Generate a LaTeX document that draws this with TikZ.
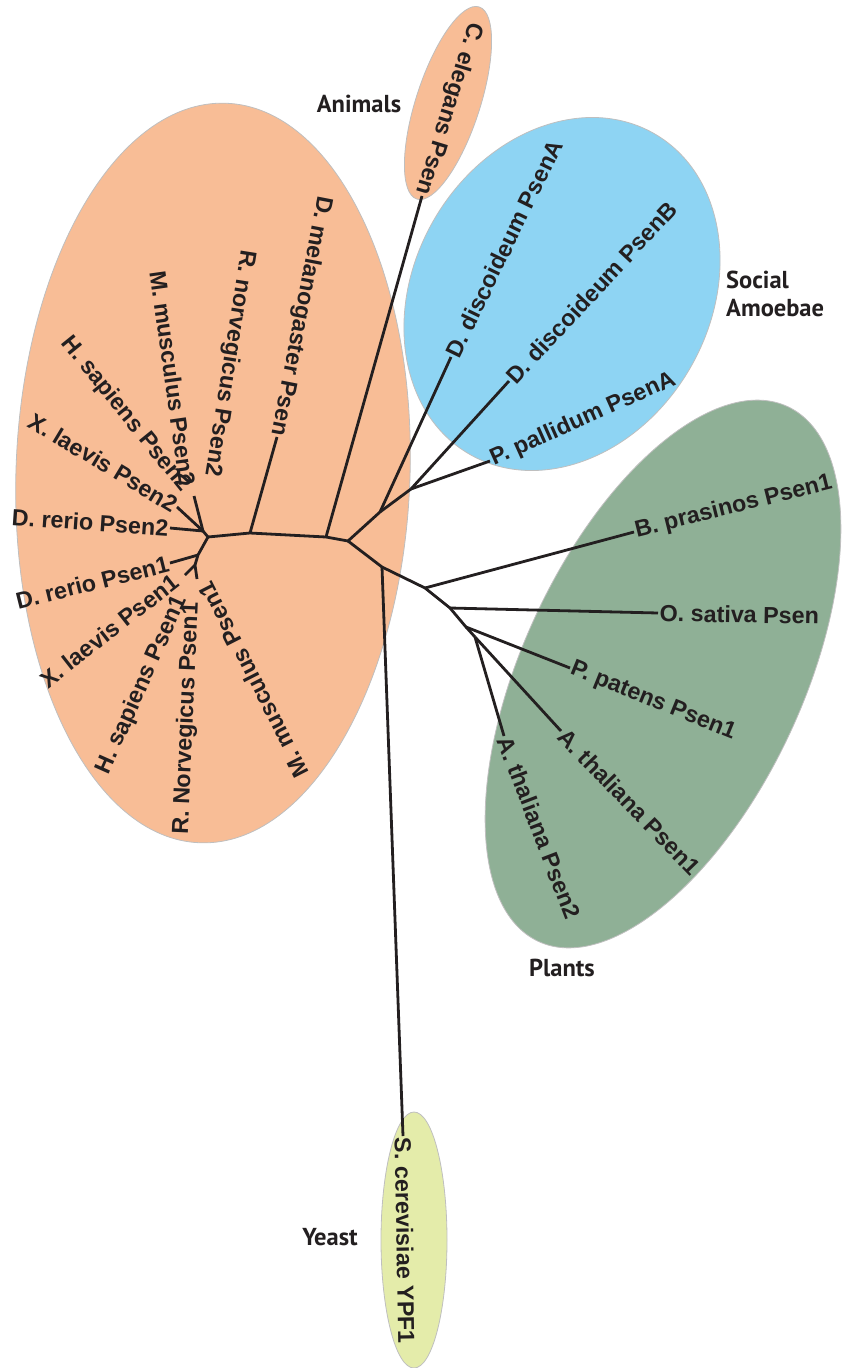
\documentclass[tikz,border=0pt]{standalone}
\usepackage{fontspec}
\setmainfont{Liberation Sans}
\newfontfamily\grpfont{PT Sans}
\definecolor{ink}{RGB}{35,31,32}
\definecolor{animalc}{RGB}{248,189,150}
\definecolor{amoebc}{RGB}{142,212,243}
\definecolor{plantc}{RGB}{143,176,150}
\definecolor{yeastc}{RGB}{228,236,170}
\begin{document}
\begin{tikzpicture}[x=1pt,y=-1pt,
  blob/.style={draw=black!25, line width=0.8pt},
  branch/.style={draw=ink, line width=2.8pt, line join=round},
  sp/.style={font=\bfseries\fontsize{23.3}{27}\selectfont, text=ink, inner sep=1.5pt},
  grp/.style={font=\grpfont\bfseries\fontsize{24.5}{28}\selectfont, text=ink, inner sep=0pt}]
\useasboundingbox (0,0) rectangle (844,1368);
% group ellipses
\filldraw[blob, fill=animalc, rotate around={-2:(213,473)}] (213,473) ellipse [x radius=197, y radius=370];
\filldraw[blob, fill=animalc, rotate around={-18:(448,103)}] (448,103) ellipse [x radius=32, y radius=101];
\filldraw[blob, fill=amoebc, rotate around={-30:(562,294)}] (562,294) ellipse [x radius=148, y radius=185];
\filldraw[blob, fill=plantc, rotate around={-25:(663,674)}] (663,674) ellipse [x radius=140, y radius=295];
\filldraw[blob, fill=yeastc] (414,1240) ellipse [x radius=33, y radius=128];

% internal nodes
\coordinate (r0) at (208,537);
\coordinate (dm) at (250,533);
\coordinate (ce) at (326,537);
\coordinate (c) at (348,541);
\coordinate (a1) at (380,512);
\coordinate (a2) at (411,489);
\coordinate (y0) at (382,567);
\coordinate (p1) at (425,588);
\coordinate (p2) at (450,608);
\coordinate (p3) at (466,627);
\coordinate (p4) at (475,637);
\coordinate (n2) at (203,531);
\coordinate (t2) at (194,496);
\coordinate (n1) at (198,555);
\coordinate (n1b) at (195,565);
\coordinate (t1a) at (185,575);
\coordinate (t1b) at (197,579);

% leaf labels - Psen2 group
\node[sp, rotate=-4, anchor=east] (drp2) at (170,528) {D. rerio Psen2};
\node[sp, rotate=-31, anchor=east] (xlp2) at (177,507) {X. laevis Psen2};
\node[sp, rotate=-51, anchor=east] (hsp2) at (187,490) {H. sapiens Psen2};
\node[sp, rotate=-82, anchor=east] (mmp2) at (188,487) {M. musculus Psen2};
\node[sp, rotate=-99, anchor=east] (rnp2) at (211,478) {R. norvegicus Psen2};
\node[sp, rotate=-101, anchor=east] (dmel) at (277,437) {D. melanogaster Psen};
\node[sp, rotate=-107, anchor=east] (cel) at (422,196) {C. elegans Psen};
% Psen1 group
\node[sp, rotate=14, anchor=east] (drp1) at (170,563) {D. rerio Psen1};
\node[sp, rotate=38, anchor=east] (xlp1) at (177,578) {X. laevis Psen1};
\node[sp, rotate=66, anchor=east] (hsp1) at (182,596) {H. sapiens Psen1};
\node[sp, rotate=87.5, anchor=east] (rnp1) at (192,601) {R. Norvegicus Psen1};
\node[sp, rotate=117, anchor=east] (mmp1) at (203,582) {M. musculus Psen1};
% amoebae
\node[sp, rotate=64, anchor=west] (ddA) at (451,357) {D. discoideum PsenA};
\node[sp, rotate=47, anchor=west] (ddB) at (509,381) {D. discoideum PsenB};
\node[sp, rotate=24, anchor=west] (ppA) at (490,461) {P. pallidum PsenA};
% plants
\node[sp, rotate=14, anchor=west] (bpr) at (634,532) {B. prasinos Psen1};
\node[sp, rotate=-1, anchor=west] (osa) at (658,613) {O. sativa Psen};
\node[sp, rotate=-22, anchor=west] (ppa) at (570,668) {P. patens Psen1};
\node[sp, rotate=-46, anchor=west] (ath1) at (561,731) {A. thaliana Psen1};
\node[sp, rotate=-69, anchor=west] (ath2) at (504,736) {A. thaliana Psen2};
% yeast
\node[sp, rotate=-89, anchor=west] (scer) at (403,1136) {S. cerevisiae YPF1};

% branches
\draw[branch] (r0) -- (dm) -- (ce) -- (c);
\draw[branch] (r0) -- (n2);
\draw[branch] (n2) -- (drp2.east);
\draw[branch] (n2) -- (xlp2.east);
\draw[branch] (n2) -- (t2);
\draw[branch] (r0) -- (n1) -- (n1b);
\draw[branch] (n1) -- (drp1.east);
\draw[branch] (n1b) -- (t1a);
\draw[branch] (n1b) -- (t1b);
\draw[branch] (dm) -- (dmel.east);
\draw[branch] (ce) -- (cel.east);
\draw[branch] (c) -- (a1) -- (a2);
\draw[branch] (a1) -- (ddA.west);
\draw[branch] (a2) -- (ddB.west);
\draw[branch] (a2) -- (ppA.west);
\draw[branch] (c) -- (y0) -- (p1) -- (p2) -- (p3) -- (p4);
\draw[branch] (y0) -- (scer.west);
\draw[branch] (p1) -- (bpr.west);
\draw[branch] (p2) -- (osa.west);
\draw[branch] (p3) -- (ppa.west);
\draw[branch] (p4) -- (ath1.west);
\draw[branch] (p4) -- (ath2.west);

% group labels
\node[grp] (animals) at (359,104) {Animals};
\node[grp, anchor=base west] (social) at (726,288) {Social};
\node[grp, anchor=base west] (amoebae) at (726,316) {Amoebae};
\node[grp] (plants) at (562,968) {Plants};
\node[grp] (yeast) at (330,1237) {Yeast};
\end{tikzpicture}
\end{document}
